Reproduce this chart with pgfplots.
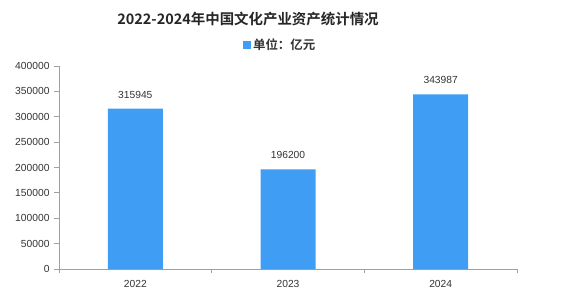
\documentclass[border=0pt]{standalone}
\usepackage{pgfplots}
\pgfplotsset{compat=1.18}
\usepackage{fontspec}
\setmainfont{Liberation Sans}
\newfontfamily\cjk{Noto Sans CJK SC}
\newfontfamily\cjkb{Noto Sans CJK SC Bold}
\definecolor{barblue}{HTML}{3F9DF3}
\definecolor{axgray}{HTML}{A0A0A0}
\definecolor{txt}{HTML}{333333}
\begin{document}
\begin{tikzpicture}[x=1bp,y=1bp]
\path[use as bounding box] (0,0) rectangle (565,296);
\node[font=\cjkb\fontsize{14.5}{16}\selectfont, text=black!85] at (248,277) {2022-2024年中国文化产业资产统计情况};
\begin{axis}[
  at={(59bp,27bp)}, anchor=south west,
  scale only axis, width=458bp, height=203bp,
  xmin=-0.5, xmax=2.5, ymin=0, ymax=400000,
  axis x line*=bottom, axis y line*=left,
  axis line style={axgray, line width=0.8pt},
  xtick={0,1,2}, xticklabels={2022,2023,2024},
  major x tick style={draw=none},
  minor xtick={-0.5,0.5,1.5,2.5},
  minor x tick style={axgray, line width=0.8pt},
  minor tick length=4bp,
  ytick={0,50000,...,400000},
  y tick style={axgray, line width=0.8pt},
  major tick length=5bp,
  tick align=outside,
  scaled y ticks=false,
  /pgf/number format/assume math mode=true,
  yticklabel={\pgfmathprintnumber[fixed,1000 sep={}]{\tick}},
  ticklabel style={font=\fontsize{10.3}{12}\selectfont, text=txt},
  yticklabel style={xshift=-1bp},
  xticklabel style={yshift=-3bp},
  ybar, bar width=55bp,
  nodes near coords,
  nodes near coords style={font=\fontsize{10.3}{12}\selectfont, text=txt, yshift=7bp, /pgf/number format/.cd, fixed, 1000 sep={}, assume math mode=true},
  legend style={at={(0.483,1.055)}, anchor=south, draw=none, fill=none, font=\cjkb\fontsize{12.5}{14}\selectfont, text=txt, /tikz/every even column/.append style={column sep=2bp}},
  legend image code/.code={\fill[barblue] (0bp,-4bp) rectangle (8bp,4bp);},
  clip=false,
]
\addplot[fill=barblue, draw=none] coordinates {(0,315945) (1,196200) (2,343987)};
\addlegendentry{单位：亿元}
\end{axis}
\end{tikzpicture}
\end{document}
